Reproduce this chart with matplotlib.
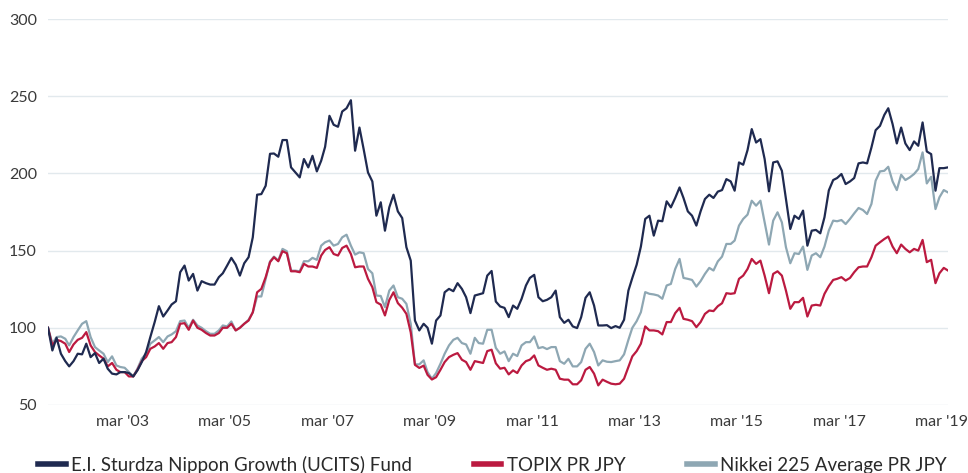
import matplotlib

matplotlib.use("Agg")
import matplotlib.pyplot as plt
import pandas as pd

plt.rcParams["font.family"] = ["Lato", "DejaVu Sans"]

# monthly index values, rebased to 100
dates = pd.date_range("2001-09-30", periods=212, freq="ME")

fund = [
    100, 85.3, 93.5, 83.2, 78.4, 75, 78.4, 83.2, 82.8, 89.7, 81, 83.6, 77.2, 80, 73.5, 70.3,
    69.8, 71.3, 71.3, 70.7, 68.5, 72.4, 77.8, 84.3, 94, 103.7, 114,
    107.3, 111.2, 115.1, 117.2, 136, 140.3, 130.6, 134.9, 124.1, 130.2, 128.9, 128, 128,
    132.8, 135.3, 140.3, 145.3, 140.9, 133.8, 141.8, 145.7, 158.6, 186.2, 186.6, 192,
    212.7,
    212.9, 210.8, 221.6, 221.6, 203.9, 200.6, 197.4, 209.3, 203.9, 211.4, 201.3, 208.2,
    217.2, 237.3, 231.5, 230.2, 240.1, 242.2, 247.4, 214.7, 229.7, 215.7, 200.6, 194.8, 172.6,
    181.3,
    162.9, 178, 186.2, 175.4, 171.1, 152.2, 143.5, 104.7, 98.3, 102.6, 100, 89.7, 104.7, 108,
    123, 125.2, 123.7, 128.9, 125.2, 119.8, 109.5, 120.9, 121.6, 122.4, 133.8,
    136.8,
    117, 113.8, 112.9, 106.9, 114.4, 112.3, 118.8, 127.4, 132.3, 134.3, 119.8, 117.2, 118.1,
    119.8, 124.1, 106.9, 103.2, 105.2, 100.9, 99.8, 106.9, 119.4, 123, 114.4, 101.5, 101.5,
    101.7,
    99.8, 101.1, 100, 105.2, 124.1, 132.3, 140.9, 152.6, 170.5, 172.6, 159.7, 169.4, 169,
    181.9, 178, 184.1, 190.9, 184.1, 175.4, 172.6, 166.2, 175.4, 183.4, 186.2, 184.1,
    188.2,
    189.2, 196.3, 194.8, 188.8, 207.1, 205.6, 215.1, 228.7, 220, 222.2, 209.3, 188.4, 207.1,
    207.8, 201.7, 183.4, 164, 172.6, 170.5, 175.9, 153.2, 162.9, 163.4, 161.2, 171.6,
    189,
    195.7, 197, 199.6, 193.1, 194.8, 197, 206.5, 207.1, 206.5, 216.8, 228, 230.8, 237.9,
    242.2, 231.9, 219.4, 229.7, 219.4, 215.1, 220.7, 217.9, 233, 214.2, 212.5, 188.8, 203.4,
    203.4, 203.9,
]

topix = [
    100, 88.6, 92.2, 91.4, 89.7, 84.3, 89.2, 92.2, 93.5, 97.2, 88.6, 84.3, 82.1, 80, 75, 77.2,
    72.8, 71.3, 71.3, 68.5, 68.5, 72.8, 78.4, 81, 86.4, 87.9, 90.1,
    86.4, 90.1, 90.7, 94, 102.6, 103, 98.7, 104.7, 100, 98.7, 96.6, 95, 95, 96.6, 100, 100,
    102.6, 98.3, 100, 102.6, 104.7, 110, 123, 125.2, 132.8,
    142.5,
    145.7, 143.1, 149.6, 148.3, 136.6, 136.6, 136, 141.4, 139.7, 139.7, 138.8, 146.8, 150.4,
    152.2, 147.8, 146.8, 151.7, 153.2, 147.8, 139.2, 139.7, 139.7, 131.7, 126.3, 116.6,
    115,
    108, 118, 123, 116, 113, 109, 97, 76, 74, 75.5, 69.5, 66.5, 68, 72.8, 77.8, 81, 82.5,
    83.6, 79.3, 77.8, 72.8, 78.4, 77.8, 77.2, 84.9,
    85.8,
    77, 73.5, 74.1, 69.8, 72.4, 70.7, 75.6, 78.4, 79.3, 82.1, 75.6, 74.1, 72.8, 73.5, 72.8,
    67, 66.4, 66.4, 63.4, 63.4, 66, 72.8, 74.6, 70.3, 62.7, 66.4,
    65,
    63.8, 63.4, 63.8, 67, 74.6, 81.5, 84.9, 89.7, 100.9, 98.3, 98.3, 97.8, 95.7, 103.7, 103.7,
    109.5, 112.9, 105.8, 105.2, 104.3, 100.4, 103.7, 109, 111.2, 110.8,
    114,
    115.9, 122.4, 122, 122.4, 131.7, 133.8, 138.1, 144.6, 141.4, 143.5, 133.8, 122.4, 134.9,
    136.6, 133.8, 124.1, 112.3, 116.6, 116.6, 119.4, 107.3, 114.4, 114.9, 114.4, 122,
    127,
    131, 131.7, 132.8, 130.6, 132.3, 136, 139.2, 139.7, 139.7, 145.7, 153.2, 155.4, 157.5,
    159.1, 152.6, 148.3, 153.9, 151.1, 148.9, 151.1, 150, 156.9, 142.5, 144, 128.9, 135.3,
    138.8, 137.1,
]

nikkei = [
    100, 89.7, 94, 94.4, 92.9, 88.6, 94, 98.3, 102.6, 104.3, 94, 87.5, 85.3, 83.2, 77.8, 81.5,
    75.6, 74.6, 74.1, 71.3, 68.5, 73.5, 80, 83.2, 89.7, 91.8, 94,
    90.7, 94.4, 95.7, 97.8, 104.3, 104.7, 100, 105.2, 101.5, 100, 97.8, 96.1, 96.1, 98.3,
    101.5, 100.9, 104.1, 98.3, 100, 102.6, 105.2, 110, 120.3, 120.3, 131.7,
    143,
    146.1, 143.5, 151.1, 149.6, 137, 137, 136.6, 143.1, 143.1, 145.3, 144, 153.2, 155.4,
    156.5, 153.2, 154.3, 158.6, 160.3, 153.2, 147.4, 148.9, 148.3, 138.1, 135.3, 120.9,
    120.6,
    113.4, 124.1, 127.4, 119.8, 118.8, 115.5, 102.6, 76.3, 76.3, 78.9, 71.3, 67, 70.7, 76.7,
    83.2, 88.6, 92.2, 93.5, 90.1, 89.2, 83.2, 93.5, 90.1, 89.7, 98.7,
    98.7,
    87, 83.2, 84.7, 78.4, 83.2, 81.7, 88.6, 90.7, 90.7, 94.4, 86.8, 87.5, 86.2, 87.5, 87.5,
    78.4, 76.7, 79.9, 75, 75, 77.8, 86.4, 89.7, 84.3, 75.6, 78.9,
    78,
    77.8, 78.4, 78.9, 82.8, 92.2, 100, 104.3, 110.1, 123.1, 122, 121.6, 120.9, 118.8, 127.4,
    128.4, 138.1, 144.6, 132.3, 131.7, 131, 126.7, 130.2, 134.9, 138.8, 137.1,
    143,
    146.1, 154.3, 154.3, 156.5, 166.2, 170.5, 173.3, 182.3, 179.1, 182.3, 168.3, 153.9, 169.4,
    174.8, 168.3, 152.2, 141.8, 148.3, 147.8, 152.6, 137.5, 146.8, 148.3, 145.7, 152.6,
    163,
    169.4, 169, 169.8, 167.2, 170.5, 174.1, 177.6, 176.3, 173.7, 180.2, 195.3, 201.3, 201.7,
    204.3, 194.8, 189.2, 199.1, 195.7, 197.4, 199.6, 202.8, 213.6, 193.5, 197.8, 176.9, 184.5,
    189.2, 187.7,
]

series_names = [
    "E.I. Sturdza Nippon Growth (UCITS) Fund",
    "TOPIX PR JPY",
    "Nikkei 225 Average PR JPY",
]
series_colors = ["#1f2a50", "#bb1a40", "#8ea7b3"]

y_ticks = [50, 100, 150, 200, 250, 300]
tick_years = list(range(2003, 2020, 2))
tick_labels = [f"mar '{y % 100:02d}" for y in tick_years]

fig = plt.figure(figsize=(9.68, 4.73), dpi=100)
ax = fig.add_axes([0.0496, 0.1438, 0.9297, 0.816])

for vals, name, color, z in zip([fund, topix, nikkei], series_names, series_colors, [3, 2, 1]):
    ax.plot(dates, vals, color=color, lw=1.6, label=name, zorder=z)

ax.set_xlim(dates[0], dates[-1])
ax.set_ylim(50, 300)
ax.set_yticks(y_ticks)
ax.set_xticks([pd.Timestamp(f"{y}-03-15") for y in tick_years])
ax.set_xticklabels(tick_labels)
ax.grid(axis="y", color="#e2e9ed", lw=1)
ax.set_axisbelow(True)
for s in ax.spines.values():
    s.set_visible(False)
ax.tick_params(axis="both", length=0, labelsize=11.5, labelcolor="#3a3a3a")
ax.tick_params(axis="x", pad=7)
ax.tick_params(axis="y", pad=8)

handles, labels = ax.get_legend_handles_labels()
leg = fig.legend(
    handles, labels, loc="center", bbox_to_anchor=(0.509, 0.017), ncol=3, frameon=False,
    fontsize=13.5, handlelength=1.45, handletextpad=0.3, columnspacing=3.3,
    labelcolor="#2a2a2a",
)
for h in leg.get_lines():
    h.set_linewidth(4)

fig.savefig("out.png", dpi=100)
plt.close(fig)
